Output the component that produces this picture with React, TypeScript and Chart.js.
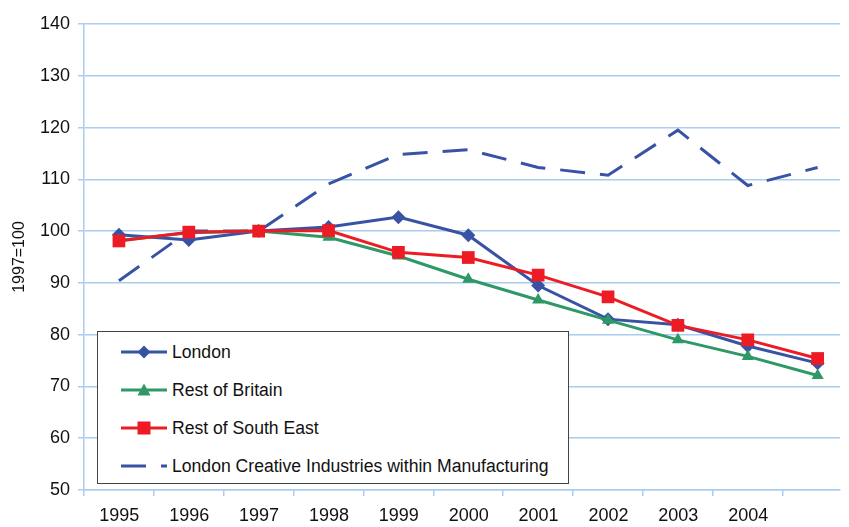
import React, { useEffect, useRef } from 'react';
import { Chart, registerables } from 'chart.js';

Chart.register(...registerables);

const years = ['1995', '1996', '1997', '1998', '1999', '2000', '2001', '2002', '2003', '2004', '2005'];
const london = [99.3, 98.3, 100, 100.8, 102.7, 99.2, 89.5, 83.0, 81.9, 77.8, 74.5];
const restOfBritain = [98.2, 99.7, 100, 98.8, 95.2, 90.7, 86.7, 82.8, 79.0, 75.8, 72.1];
const restOfSouthEast = [98.1, 99.8, 100, 100.1, 95.9, 94.9, 91.5, 87.3, 81.8, 79.0, 75.4];
const creativeManufacturing = [90.4, 100.0, 100, 109.1, 114.8, 115.7, 112.3, 110.8, 119.5, 108.8, 112.3];
const yTicks = [50, 60, 70, 80, 90, 100, 110, 120, 130, 140];

const BLUE = '#3953a4';
const GREEN = '#2e9966';
const RED = '#ed1c24';
const GRID = '#a9cdee';
const FONT = "'Liberation Sans', Arial, sans-serif";

const toPoints = (arr: number[]) => arr.map((v, i) => ({ x: i, y: v }));

const legendItems = [
  { label: 'London', color: BLUE, marker: 'diamond', dashed: false },
  { label: 'Rest of Britain', color: GREEN, marker: 'triangle', dashed: false },
  { label: 'Rest of South East', color: RED, marker: 'square', dashed: false },
  { label: 'London Creative Industries within Manufacturing', color: BLUE, marker: 'none', dashed: true },
];

function Sample({ color, marker, dashed }: { color: string; marker: string; dashed: boolean }) {
  return (
    <svg width={46} height={16} style={{ display: 'block', flex: '0 0 auto' }}>
      <line x1={0} y1={8} x2={46} y2={8} stroke={color} strokeWidth={3} strokeDasharray={dashed ? '25 15' : undefined} />
      {marker === 'diamond' && <polygon points="23,1.5 29.5,8 23,14.5 16.5,8" fill={color} />}
      {marker === 'triangle' && <polygon points="23,1.5 29.5,13.5 16.5,13.5" fill={color} />}
      {marker === 'square' && <rect x={16.5} y={1.5} width={13} height={13} fill={color} />}
    </svg>
  );
}

export default function App() {
  const ref = useRef<HTMLCanvasElement | null>(null);

  useEffect(() => {
    if (!ref.current) return;
    const chart = new Chart(ref.current, {
      type: 'line',
      data: {
        datasets: [
          {
            label: 'Rest of South East',
            data: toPoints(restOfSouthEast),
            borderColor: RED,
            backgroundColor: RED,
            borderWidth: 3,
            pointStyle: 'rect',
            pointRadius: 9,
            pointBorderWidth: 0,
            order: 1,
          },
          {
            label: 'Rest of Britain',
            data: toPoints(restOfBritain),
            borderColor: GREEN,
            backgroundColor: GREEN,
            borderWidth: 3,
            pointStyle: 'triangle',
            pointRadius: 7,
            pointBorderWidth: 0,
            order: 2,
          },
          {
            label: 'London',
            data: toPoints(london),
            borderColor: BLUE,
            backgroundColor: BLUE,
            borderWidth: 3,
            pointStyle: 'rectRot',
            pointRadius: 7,
            pointBorderWidth: 0,
            order: 3,
          },
          {
            label: 'London Creative Industries within Manufacturing',
            data: toPoints(creativeManufacturing),
            borderColor: BLUE,
            backgroundColor: BLUE,
            borderWidth: 3,
            borderDash: [25, 15],
            pointRadius: 0,
            order: 4,
          },
        ],
      },
      options: {
        animation: false,
        responsive: false,
        maintainAspectRatio: false,
        layout: { padding: { top: 24, right: 0, bottom: 0, left: 0 } },
        plugins: { legend: { display: false }, tooltip: { enabled: false } },
        scales: {
          x: {
            type: 'linear',
            min: -0.5,
            max: 10.32,
            afterBuildTicks: (axis: any) => {
              axis.ticks = years.map((_, i) => ({ value: i - 0.5 }));
            },
            afterFit: (scale: any) => {
              scale.height = 37;
            },
            ticks: {
              autoSkip: false,
              maxRotation: 0,
              padding: 9,
              labelOffset: 35.35,
              color: '#111',
              font: { family: FONT, size: 18 },
              callback: (value: any) => {
                const i = Math.round(Number(value) + 0.5);
                return i >= 0 && i < years.length - 1 ? years[i] : '';
              },
            },
            grid: { drawOnChartArea: false, color: GRID, lineWidth: 1.5, tickLength: 6 },
            border: { display: true, color: GRID, width: 1.5 },
          },
          y: {
            min: 50,
            max: 140,
            afterBuildTicks: (axis: any) => {
              axis.ticks = yTicks.map((v) => ({ value: v }));
            },
            afterFit: (scale: any) => {
              scale.width = 84;
            },
            ticks: {
              padding: 8,
              color: '#111',
              font: { family: FONT, size: 18 },
            },
            grid: { color: GRID, lineWidth: 1.5, tickLength: 6 },
            border: { display: true, color: GRID, width: 1.5 },
            title: {
              display: true,
              text: '1997=100',
              color: '#111',
              font: { family: FONT, size: 16 },
              padding: { top: 10, bottom: 0 },
            },
          },
        },
      },
    });
    return () => chart.destroy();
  }, []);

  return (
    <div style={{ position: 'fixed', left: 0, top: 0, width: 849, height: 527, overflow: 'hidden', background: '#fff' }}>
      <canvas ref={ref} width={849} height={527} style={{ display: 'block', width: 849, height: 527 }} />
      <div
        style={{
          position: 'absolute',
          left: 97,
          top: 331,
          width: 472,
          height: 153,
          boxSizing: 'border-box',
          border: '1.5px solid #444',
          background: '#fff',
          fontFamily: FONT,
          fontSize: 17.6,
          color: '#111',
        }}
      >
        {legendItems.map((it, i) => (
          <div
            key={it.label}
            style={{
              position: 'absolute',
              left: 23,
              top: 20 + i * 37.9 - 10,
              height: 20,
              display: 'flex',
              alignItems: 'center',
              whiteSpace: 'nowrap',
            }}
          >
            <Sample color={it.color} marker={it.marker} dashed={it.dashed} />
            <span style={{ marginLeft: 5, lineHeight: '20px' }}>{it.label}</span>
          </div>
        ))}
      </div>
    </div>
  );
}
